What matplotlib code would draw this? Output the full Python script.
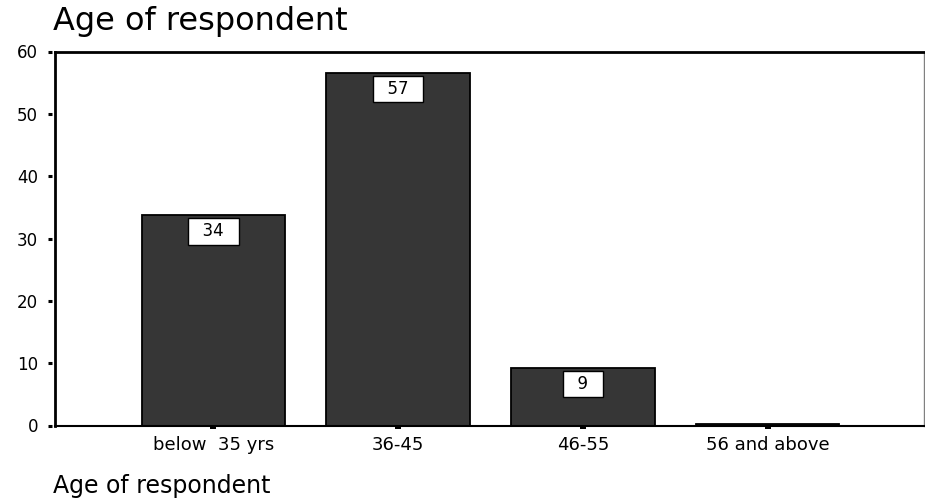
import matplotlib
matplotlib.use("Agg")
import matplotlib.pyplot as plt
import numpy as np

# data (percent of respondents)
categories = ["below  35 yrs", "36-45", "46-55", "56 and above"]
values = [33.7, 56.5, 9.2, 0.3]
bar_labels = ["34", "57", "9", ""]
yticks = [0, 10, 20, 30, 40, 50, 60]

title = "Age of respondent"
xlabel = "Age of respondent"

plt.rcParams['font.family'] = ['DejaVu Sans']

W, H = 925, 501
fig = plt.figure(figsize=(W / 100, H / 100), dpi=100, facecolor='white')
ax = fig.add_axes([55 / W, 75.5 / H, 869 / W, 374 / H])

x = np.arange(len(categories))
ax.bar(x, values, width=0.777, color='#363636', edgecolor='black', linewidth=1.3, zorder=2)

# value boxes hanging just under the top of each bar
for i, (v, lab) in enumerate(zip(values, bar_labels)):
    if not lab:
        continue
    ax.annotate(f"  {lab}  ", xy=(i, v), xytext=(0, -5), textcoords='offset points',
                ha='center', va='top', fontsize=12, color='black', zorder=3,
                bbox=dict(boxstyle='square,pad=0.25', fc='white', ec='black', lw=1))

ax.set_xlim(-0.858, 3.847)
ax.set_ylim(0, 60)
ax.set_yticks(yticks)
ax.set_xticks(x, categories)

# SPSS look: y ticks sit a little away from the frame
ax.spines['left'].set_position(('outward', 2.2))
ax.spines['left'].set_visible(False)
ax.plot([0, 0], [0, 1], transform=ax.transAxes, color='black', lw=2, clip_on=False, zorder=4)
ax.spines['top'].set_linewidth(2)
ax.spines['top'].set_color('black')
ax.spines['bottom'].set_linewidth(1.5)
ax.spines['right'].set_linewidth(1)
ax.spines['right'].set_color('#808080')

ax.tick_params(axis='y', direction='out', length=2.9, width=2.2, pad=7.2, labelsize=12, colors='black')
ax.tick_params(axis='x', direction='out', length=2.2, width=4.3, pad=5, labelsize=13, colors='black')

fig.text(53 / W, 1 - 30 / H, title, fontsize=23, ha='left', va='baseline')
fig.text(53 / W, 8 / H, xlabel, fontsize=17, ha='left', va='baseline')

fig.savefig("out.png", dpi=100, facecolor='white')
